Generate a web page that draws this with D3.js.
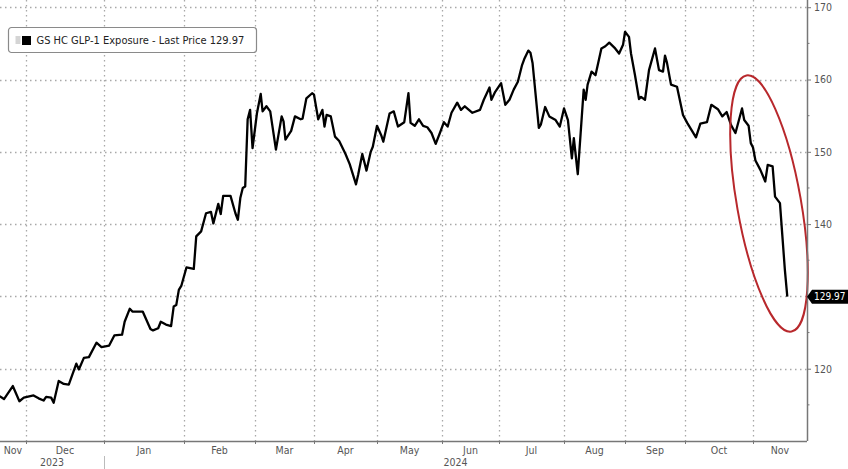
<!DOCTYPE html>
<html>
<head>
<meta charset="utf-8">
<script src="https://cdn.jsdelivr.net/npm/d3@7"></script>
<style>
  body { margin: 0; background: #fff; }
  text { font-family: "Liberation Sans Narrow", "DejaVu Sans Condensed", "Liberation Sans", Arial, sans-serif; }
</style>
</head>
<body>
<div id="chart"></div>
<script>
// GS HC GLP-1 Exposure, last price
const dates = [
  "2023-11-19","2023-11-21","2023-11-25","2023-11-28","2023-11-30",
  "2023-12-04","2023-12-06","2023-12-08","2023-12-09","2023-12-11","2023-12-12","2023-12-14","2023-12-16",
  "2023-12-18","2023-12-21","2023-12-22","2023-12-24","2023-12-26","2023-12-29","2023-12-31",
  "2024-01-03","2024-01-05","2024-01-08","2024-01-09","2024-01-11","2024-01-12","2024-01-16","2024-01-19",
  "2024-01-20","2024-01-22","2024-01-23","2024-01-25","2024-01-27","2024-01-28","2024-01-29","2024-01-30","2024-01-31",
  "2024-02-02","2024-02-05","2024-02-06","2024-02-08","2024-02-10","2024-02-12","2024-02-13","2024-02-15",
  "2024-02-16","2024-02-17","2024-02-20","2024-02-22","2024-02-23","2024-02-24","2024-02-25","2024-02-26",
  "2024-02-27","2024-02-28","2024-02-29",
  "2024-03-02","2024-03-04","2024-03-05","2024-03-07","2024-03-09","2024-03-12","2024-03-15","2024-03-16",
  "2024-03-17","2024-03-20","2024-03-22","2024-03-25","2024-03-26","2024-03-28","2024-03-31",
  "2024-04-01","2024-04-03","2024-04-05","2024-04-06","2024-04-07","2024-04-09","2024-04-11","2024-04-13",
  "2024-04-16","2024-04-18","2024-04-21","2024-04-22","2024-04-24","2024-04-26","2024-04-28","2024-04-29",
  "2024-05-01","2024-05-03","2024-05-04","2024-05-07","2024-05-09","2024-05-11","2024-05-14","2024-05-16",
  "2024-05-17","2024-05-19","2024-05-21","2024-05-23","2024-05-25","2024-05-27","2024-05-29","2024-05-31",
  "2024-06-02","2024-06-04","2024-06-06","2024-06-09","2024-06-11","2024-06-13","2024-06-17","2024-06-21",
  "2024-06-23","2024-06-26","2024-06-27","2024-06-29",
  "2024-07-02","2024-07-04","2024-07-06","2024-07-08","2024-07-10","2024-07-12","2024-07-13","2024-07-15",
  "2024-07-16","2024-07-17","2024-07-20","2024-07-21","2024-07-23","2024-07-25","2024-07-28","2024-07-30",
  "2024-08-01","2024-08-03","2024-08-05","2024-08-06","2024-08-08","2024-08-11","2024-08-12","2024-08-13",
  "2024-08-15","2024-08-17","2024-08-20","2024-08-22","2024-08-24","2024-08-27","2024-08-29","2024-08-31",
  "2024-09-01","2024-09-03","2024-09-04","2024-09-06","2024-09-08","2024-09-09","2024-09-11","2024-09-13",
  "2024-09-16","2024-09-18","2024-09-20","2024-09-21","2024-09-22","2024-09-24","2024-09-27","2024-09-30",
  "2024-10-02","2024-10-04","2024-10-06","2024-10-08","2024-10-11","2024-10-13","2024-10-16","2024-10-18",
  "2024-10-20","2024-10-22","2024-10-24","2024-10-27","2024-10-28","2024-10-30","2024-10-31",
  "2024-11-01","2024-11-02","2024-11-04","2024-11-06","2024-11-07","2024-11-09","2024-11-10","2024-11-12",
  "2024-11-13","2024-11-14","2024-11-15"
];
const prices = [
  116.2,115.8,117.6,115.5,116.0,
  116.3,115.9,115.6,116.1,116.0,115.3,118.3,117.9,
  117.8,120.7,119.9,121.5,121.6,123.6,123.0,
  123.2,124.6,124.7,126.5,128.3,127.9,127.9,125.5,
  125.3,125.6,126.5,126.1,125.9,128.6,128.8,130.9,131.5,
  134.0,133.8,138.3,139.0,141.5,141.7,140.1,142.8,
  141.4,143.9,143.9,141.5,140.6,143.6,145.0,145.2,
  154.5,155.8,150.5,
  155.3,158.0,155.6,156.3,155.6,150.3,154.9,154.2,
  151.7,152.9,154.9,154.5,154.6,157.4,158.1,
  157.9,154.5,155.8,153.5,155.1,154.9,152.1,151.5,
  149.7,148.3,145.5,146.8,149.7,147.4,150.0,150.7,
  153.6,152.3,151.4,155.3,155.6,153.5,154.1,158.1,
  154.0,153.6,154.5,153.6,153.4,152.6,151.1,152.6,
  154.1,153.5,155.4,156.8,155.8,156.3,155.4,155.8,
  157.2,158.9,157.2,158.3,
  159.5,156.5,157.2,158.6,159.7,162.0,162.8,164.0,
  163.7,162.3,153.3,153.8,156.2,154.9,154.4,153.5,
  156.0,154.4,149.1,151.9,146.9,158.6,157.2,159.3,
  161.1,160.6,164.3,164.6,165.1,164.3,163.6,164.8,
  166.6,165.9,163.6,160.6,157.3,157.6,157.2,161.3,
  164.3,161.3,161.1,163.3,162.3,159.3,159.0,155.1,
  154.0,153.0,152.0,153.9,154.1,156.5,155.9,154.9,
  155.5,153.7,152.6,156.0,154.4,153.6,151.2,
  150.6,148.8,147.5,145.9,148.2,148.0,143.8,142.9,
  138.3,133.7,129.97
];

// month boundaries shown on the time axis
const monthStarts = [
  "2023-11-01","2023-12-01","2024-01-01","2024-02-01","2024-03-01","2024-04-01","2024-05-01",
  "2024-06-01","2024-07-01","2024-08-01","2024-09-01","2024-10-01","2024-11-01","2024-12-01"
];
const monthLabels = ["Nov","Dec","Jan","Feb","Mar","Apr","May","Jun","Jul","Aug","Sep","Oct","Nov"];
const yearLabels = ["2023","2024"];
const yTicks = [120,130,140,150,160,170];
const yMinorTicks = [115,125,135,145,155,165];
const lastPrice = 129.97;
const seriesName = "GS HC GLP-1 Exposure - Last Price";

// layout: the picture's time axis is not evenly spaced, so each month edge has its own spot
const monthX = [-40, 26, 104, 184, 255, 314, 377, 442, 499, 564, 625, 685, 753, 826.5];

const width = 848, height = 469;
const plotW = 807, plotH = 441;

const parse = d3.timeParse("%Y-%m-%d");
const data = dates.map((d, i) => ({ date: parse(d), value: prices[i] }));
const edges = monthStarts.map(parse);

const x = d3.scaleTime().domain(edges).range(monthX);
const y = d3.scaleLinear().domain([110, 171]).range([plotH, 0]);

const svg = d3.select("#chart").append("svg")
  .attr("width", width)
  .attr("height", height);

svg.append("rect").attr("width", width).attr("height", height).attr("fill", "#fff");

// dotted grid
const grid = svg.append("g").attr("stroke", "#a8a8a8").attr("stroke-width", 1.3)
  .attr("stroke-dasharray", "1.5,3.5");
grid.selectAll(".hg").data(yTicks).enter().append("line")
  .attr("x1", 0).attr("x2", plotW)
  .attr("y1", d => Math.round(y(d)) + 0.5).attr("y2", d => Math.round(y(d)) + 0.5);
grid.selectAll(".vg").data(edges.slice(1, -1)).enter().append("line")
  .attr("y1", 0).attr("y2", plotH)
  .attr("x1", d => Math.round(x(d)) + 0.5).attr("x2", d => Math.round(x(d)) + 0.5);

// price line
const line = d3.line().x(d => x(d.date)).y(d => y(d.value));
svg.append("path")
  .datum(data)
  .attr("fill", "none")
  .attr("stroke", "#000")
  .attr("stroke-width", 2.3)
  .attr("stroke-linejoin", "round")
  .attr("d", line);

// red ellipse round the drop
svg.append("ellipse")
  .attr("cx", 0).attr("cy", 0).attr("rx", 32).attr("ry", 130)
  .attr("transform", "translate(769,203.5) rotate(-10)")
  .attr("fill", "none")
  .attr("stroke", "#b8282c")
  .attr("stroke-width", 2);

// bottom axis
const xAxis = svg.append("g")
  .attr("transform", `translate(0,${plotH})`)
  .call(d3.axisBottom(x).tickValues(edges.slice(1, -1)).tickSize(3).tickFormat(""));
xAxis.select(".domain").attr("stroke", "#777").attr("stroke-width", 1.5).attr("d", `M0,0.5H${plotW}`);
xAxis.selectAll(".tick line").attr("stroke", "#777");

// month labels centred in the visible part of each month
const monthMid = monthLabels.map((m, i) => {
  const a = Math.max(x(edges[i]), 0), b = Math.min(x(edges[i + 1]), plotW);
  return { label: m, x: (a + b) / 2 };
});
svg.append("g").selectAll("text").data(monthMid).enter().append("text")
  .attr("x", d => d.x).attr("y", plotH + 13)
  .attr("text-anchor", "middle")
  .attr("font-size", 10.5)
  .attr("fill", "#555")
  .text(d => d.label);

const janX = x(parse("2024-01-01"));
const yearMid = [(0 + janX) / 2, (janX + plotW) / 2];
svg.append("g").selectAll("text").data(yearLabels).enter().append("text")
  .attr("x", (d, i) => yearMid[i]).attr("y", plotH + 25)
  .attr("text-anchor", "middle")
  .attr("font-size", 10.5)
  .attr("fill", "#555")
  .text(d => d);
svg.append("line")
  .attr("x1", Math.round(janX) + 0.5).attr("x2", Math.round(janX) + 0.5)
  .attr("y1", plotH + 15).attr("y2", height)
  .attr("stroke", "#bbb");

// right axis (the 130 label is covered by the last price tag)
const yAxis = svg.append("g")
  .attr("transform", `translate(${plotW},0)`)
  .call(d3.axisRight(y).tickValues(yTicks).tickSize(4).tickPadding(3)
    .tickFormat(d => Math.abs(d - lastPrice) < 3 ? "" : d));
yAxis.select(".domain").attr("stroke", "#777").attr("stroke-width", 1.5).attr("d", `M0.5,0V${plotH}`);
yAxis.selectAll(".tick line").attr("stroke", "#777");
yAxis.selectAll(".tick text").attr("fill", "#555").attr("font-size", 10.5)
  .style("font-family", "'Liberation Sans Narrow', 'DejaVu Sans Condensed', 'Liberation Sans', sans-serif");
svg.append("g").attr("transform", `translate(${plotW},0)`)
  .selectAll("line").data(yMinorTicks).enter().append("line")
  .attr("x1", 0).attr("x2", 2.5)
  .attr("y1", d => y(d)).attr("y2", d => y(d))
  .attr("stroke", "#777");

// last price tag
const ly = y(lastPrice);
svg.append("path")
  .attr("d", `M${plotW},${ly}L${plotW + 5},${ly - 7}H${width}V${ly + 7}H${plotW + 5}Z`)
  .attr("fill", "#000");
svg.append("text")
  .attr("x", plotW + 7).attr("y", ly + 3.5)
  .attr("font-size", 10)
  .attr("fill", "#fff")
  .text(d3.format(".2f")(lastPrice));

// legend
const legend = svg.append("g").attr("transform", "translate(8.5,27.5)");
legend.append("rect")
  .attr("width", 248).attr("height", 25).attr("rx", 3)
  .attr("fill", "#fff").attr("stroke", "#8a8a8a").attr("stroke-width", 1.2);
legend.selectAll(".ic").data([0, 1, 2, 3]).enter().append("line")
  .attr("x1", 7).attr("x2", 12)
  .attr("y1", d => 9.5 + d * 2).attr("y2", d => 9.5 + d * 2)
  .attr("stroke", "#aaa");
legend.append("rect")
  .attr("x", 13.5).attr("y", 8.5).attr("width", 9).attr("height", 9)
  .attr("fill", "#000");
legend.append("text")
  .attr("x", 28).attr("y", 16.5)
  .attr("font-size", 11)
  .attr("fill", "#222")
  .text(`${seriesName} ${d3.format(".2f")(lastPrice)}`);
</script>
</body>
</html>
